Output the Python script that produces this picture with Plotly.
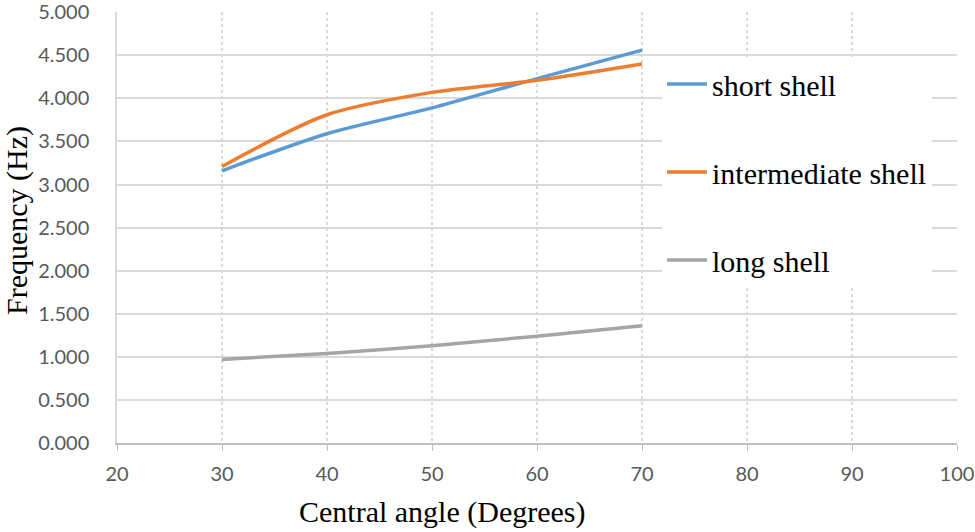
import plotly.graph_objects as go

angles = [30, 40, 50, 60, 70]
short_shell = [3.16, 3.59, 3.89, 4.23, 4.56]
intermediate_shell = [3.21, 3.81, 4.07, 4.21, 4.40]
long_shell = [0.97, 1.04, 1.13, 1.24, 1.36]

series_names = ["short shell", "intermediate shell", "long shell"]
series_values = [short_shell, intermediate_shell, long_shell]
colors = ["#5B9BD5", "#ED7D31", "#A5A5A5"]

x_ticks = [20, 30, 40, 50, 60, 70, 80, 90, 100]
y_ticks = [0, 0.5, 1, 1.5, 2, 2.5, 3, 3.5, 4, 4.5, 5]

L, R, T, B = 117, 18, 12, 89
W, H = 975, 532
PW, PH = W - L - R, H - T - B

fig = go.Figure()
for name, vals, col in zip(series_names, series_values, colors):
    fig.add_trace(go.Scatter(
        x=angles, y=vals, name=name, mode="lines",
        line=dict(color=col, width=3.5, shape="spline", smoothing=0.8),
        legendgroup=name,
    ))

fig.update_layout(
    width=W, height=H,
    margin=dict(l=L, r=R, t=T, b=B, autoexpand=False),
    paper_bgcolor="white", plot_bgcolor="white",
    showlegend=True,
    legend=dict(
        x=(662 - L) / PW, y=(H - B - 58) / PH, xanchor="left", yanchor="top",
        bgcolor="white", borderwidth=0,
        font=dict(family="Liberation Serif", size=30, color="black"),
        tracegroupgap=46, itemwidth=40,
    ),
    xaxis=dict(
        range=[20, 100], tickvals=x_ticks, ticktext=[str(t) for t in x_ticks],
        showgrid=True, gridcolor="#D9D9D9", griddash="dot", gridwidth=1.5,
        showline=True, linecolor="#BFBFBF", linewidth=1.5,
        ticks="outside", ticklen=6, tickcolor="#BFBFBF",
        ticklabelstandoff=6, ticklabeloverflow="allow",
        tickfont=dict(family="Lato", size=20, color="#595959"),
        zeroline=False, automargin=False,
    ),
    yaxis=dict(
        range=[0, 5.003], tickvals=y_ticks, ticktext=[f"{t:.3f}" for t in y_ticks],
        showgrid=True, gridcolor="#D9D9D9", gridwidth=1.5,
        showline=True, linecolor="#D9D9D9", linewidth=1.5,
        tickfont=dict(family="Lato", size=20, color="#595959"),
        ticklabelstandoff=22, ticklabeloverflow="allow",
        ticks="", zeroline=False, automargin=False,
    ),
    annotations=[
        dict(text="Central angle (Degrees)", xref="paper", yref="paper",
             x=(442 - L) / PW, y=(H - B - 512) / PH, xanchor="center", yanchor="middle",
             showarrow=False, font=dict(family="Liberation Serif", size=30, color="black")),
        dict(text="Frequency (Hz)", xref="paper", yref="paper",
             x=(17 - L) / PW, y=(H - B - 221) / PH, xanchor="center", yanchor="middle",
             textangle=-90, showarrow=False,
             font=dict(family="Liberation Serif", size=30, color="black")),
    ],
)

fig.write_html("out.html", config={"displayModeBar": False},
               post_script="document.body.style.margin='0';")
